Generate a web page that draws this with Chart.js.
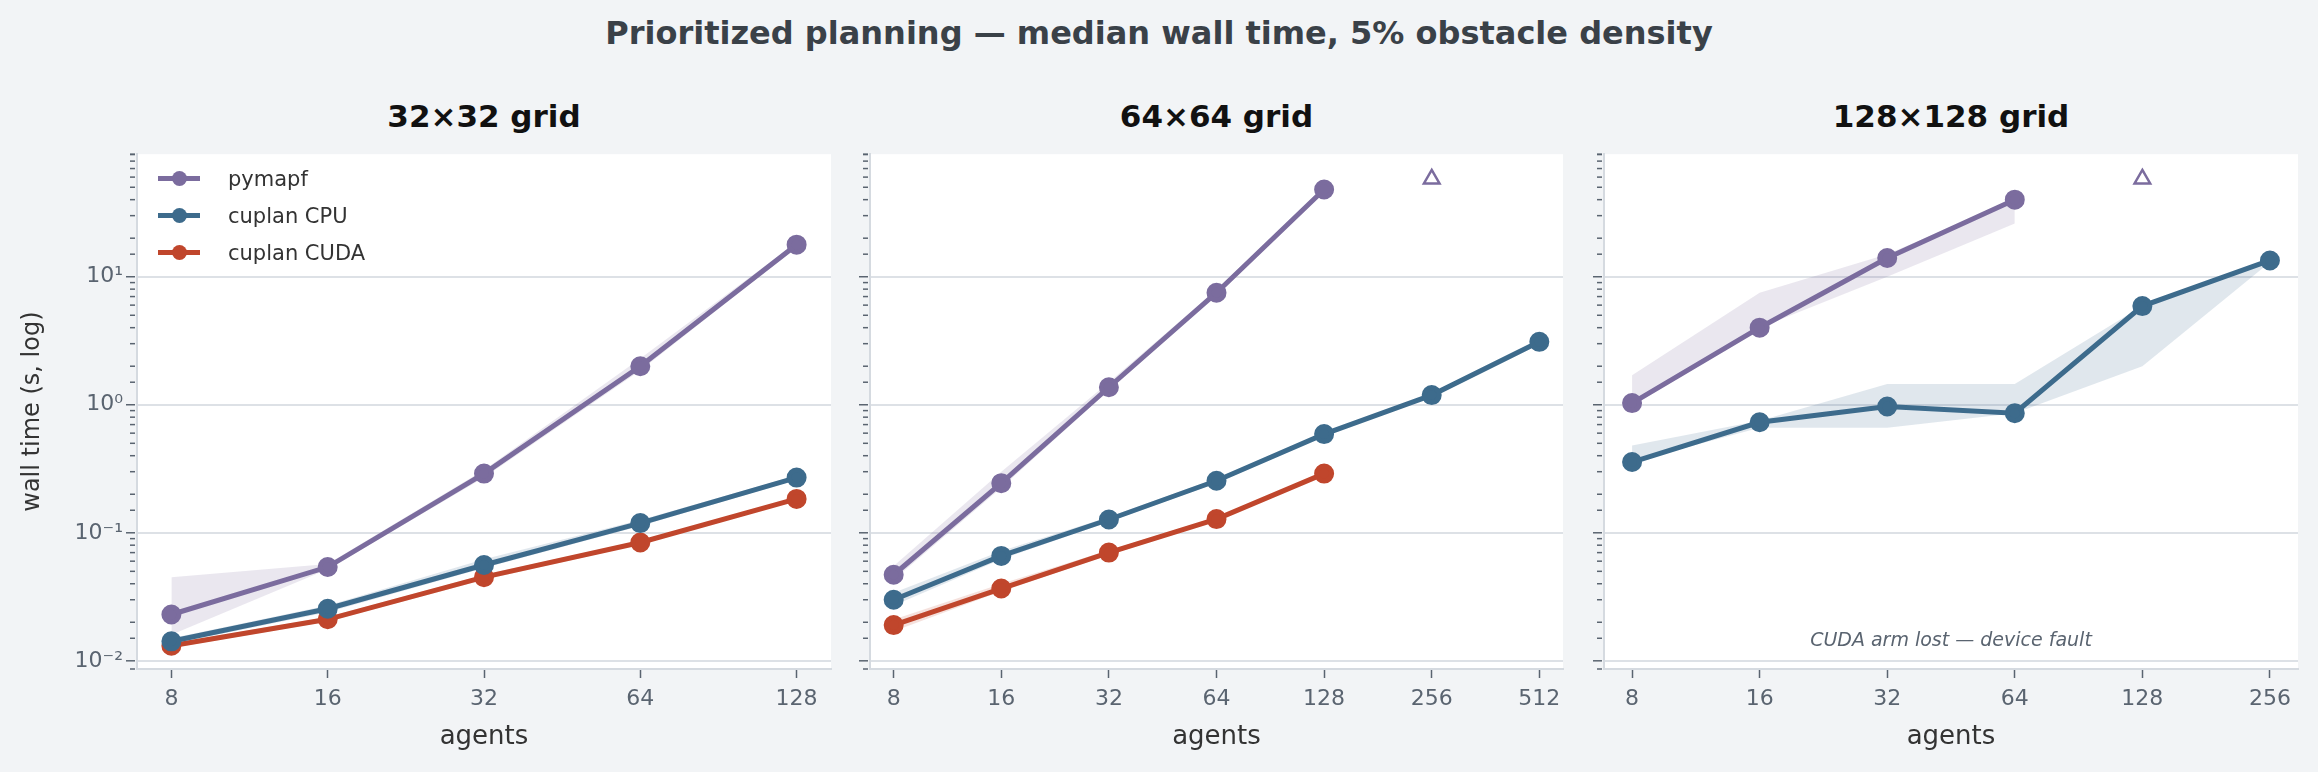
<!DOCTYPE html>
<html>
<head>
<meta charset="utf-8">
<script src="https://cdn.jsdelivr.net/npm/chart.js@4/dist/chart.umd.min.js"></script>
<style>
  body { margin: 0; width: 2318px; height: 772px; background: #f2f4f6; font-family: "DejaVu Sans", sans-serif; position: relative; overflow: hidden; }
  .box { position: absolute; }
  .ttl { position: absolute; font-weight: bold; color: #111; font-size: 31px; text-align: center; }
  #legend { position: absolute; left: 158px; top: 160px; font-size: 21px; color: #333; }
  #legend div { height: 37px; display: flex; align-items: center; }
  #legend span.sw { display: inline-block; width: 42px; height: 5px; position: relative; margin-right: 28px; }
  #legend span.sw i { position: absolute; left: 14px; top: -5px; width: 15px; height: 15px; border-radius: 50%; }
</style>
</head>
<body>
<div class="ttl" style="left:0;width:2318px;top:14px;color:#3a4148;font-size:32px;">Prioritized planning — median wall time, 5% obstacle density</div>
<div class="ttl" style="left:137px;width:694px;top:98px;">32×32 grid</div>
<div class="ttl" style="left:870px;width:693px;top:98px;">64×64 grid</div>
<div class="ttl" style="left:1604px;width:694px;top:98px;">128×128 grid</div>

<div class="box" style="left:0;top:127px;width:840px;height:645px;"><canvas id="c1"></canvas></div>
<div class="box" style="left:840px;top:127px;width:735px;height:645px;"><canvas id="c2"></canvas></div>
<div class="box" style="left:1575px;top:127px;width:743px;height:645px;"><canvas id="c3"></canvas></div>

<div id="legend">
  <div><span class="sw" style="background:#7b6c9e"><i style="background:#7b6c9e"></i></span>pymapf</div>
  <div><span class="sw" style="background:#3d6b8c"><i style="background:#3d6b8c"></i></span>cuplan CPU</div>
  <div><span class="sw" style="background:#c0462c"><i style="background:#c0462c"></i></span>cuplan CUDA</div>
</div>
<div style="position:absolute;left:1604px;width:694px;top:628px;text-align:center;font-style:italic;font-size:19px;color:#5a6470;">CUDA arm lost — device fault</div>

<script>
const COL = { py: '#7b6c9e', cpu: '#3d6b8c', cuda: '#c0462c' };
const BAND = { py: 'rgba(123,108,158,0.16)', cpu: 'rgba(61,107,140,0.16)', cuda: 'rgba(192,70,44,0.16)' };

// 32x32
const agents32 = [8, 16, 32, 64, 128];
const py32 = [0.023, 0.054, 0.29, 2.0, 17.8];
const py32Lo = [0.016, 0.052, 0.27, 1.85, 17.0];
const py32Hi = [0.045, 0.057, 0.31, 2.3, 18.5];
const cpu32 = [0.0142, 0.0255, 0.056, 0.119, 0.27];
const cpu32Lo = [0.0135, 0.024, 0.053, 0.113, 0.26];
const cpu32Hi = [0.015, 0.027, 0.062, 0.126, 0.28];
const cuda32 = [0.0131, 0.0211, 0.045, 0.084, 0.184];
const cuda32Lo = [0.0126, 0.0203, 0.043, 0.081, 0.178];
const cuda32Hi = [0.0137, 0.022, 0.047, 0.087, 0.19];

// 64x64
const agents64 = [8, 16, 32, 64, 128, 256, 512];
const py64 = [0.047, 0.244, 1.37, 7.5, 48, null, null];
const py64Lo = [0.043, 0.225, 1.3, 7.2, 46, null, null];
const py64Hi = [0.055, 0.3, 1.5, 7.9, 50, null, null];
const cpu64 = [0.030, 0.066, 0.127, 0.255, 0.59, 1.19, 3.1];
const cpu64Lo = [0.027, 0.062, 0.122, 0.245, 0.57, 1.15, 3.0];
const cpu64Hi = [0.034, 0.072, 0.133, 0.265, 0.61, 1.23, 3.2];
const cuda64 = [0.019, 0.0367, 0.070, 0.128, 0.29, null, null];
const cuda64Lo = [0.017, 0.035, 0.067, 0.124, 0.28, null, null];
const cuda64Hi = [0.021, 0.040, 0.073, 0.132, 0.30, null, null];
const timeout64 = [null, null, null, null, null, 58, null];

// 128x128
const agents128 = [8, 16, 32, 64, 128, 256];
const py128 = [1.03, 4.0, 14, 40, null, null];
const py128Lo = [1.0, 4.0, 10, 26, null, null];
const py128Hi = [1.7, 7.5, 15, 40, null, null];
const cpu128 = [0.357, 0.73, 0.97, 0.86, 5.9, 13.4];
const cpu128Lo = [0.357, 0.66, 0.66, 0.86, 2.0, 13.0];
const cpu128Hi = [0.48, 0.75, 1.45, 1.45, 5.9, 13.4];
const timeout128 = [null, null, null, null, 58, null];

const supers = { '-2': '10⁻²', '-1': '10⁻¹', '0': '10⁰', '1': '10¹' };
function isDecade(v) { const l = Math.log10(v); return Math.abs(l - Math.round(l)) < 1e-6; }

function pts(vals) { return vals.map((v, i) => ({ x: i, y: v })); }

function line(vals, c) {
  return { data: pts(vals), borderColor: c, backgroundColor: c, borderWidth: 5, pointRadius: 7.5, pointHoverRadius: 7.5, fill: false, order: 1 };
}
function band(hi, lo, c) {
  return [
    { data: pts(hi), borderWidth: 0, pointRadius: 0, backgroundColor: c, fill: '+1', order: 5 },
    { data: pts(lo), borderWidth: 0, pointRadius: 0, backgroundColor: c, fill: false, order: 5 }
  ];
}
function tri(vals) {
  return { data: pts(vals), showLine: false, pointStyle: 'triangle', pointRadius: 9, borderWidth: 2.5, borderColor: COL.py, backgroundColor: 'rgba(0,0,0,0)', order: 0 };
}

const bgPlugin = {
  id: 'bg',
  beforeDraw(chart) {
    const a = chart.chartArea, ctx = chart.ctx;
    ctx.save(); ctx.fillStyle = '#ffffff';
    ctx.fillRect(a.left, a.top, a.right - a.left, a.bottom - a.top);
    ctx.restore();
  }
};

// y tick marks (major longer than minor) from the scale's own ticks
const tickPlugin = {
  id: 'yticks',
  afterDraw(chart) {
    const y = chart.scales.y, ctx = chart.ctx, x0 = chart.chartArea.left - 2;
    ctx.save(); ctx.strokeStyle = '#5a6470'; ctx.lineWidth = 1.5;
    y.ticks.forEach(t => {
      const py = y.getPixelForValue(t.value);
      const len = isDecade(t.value) ? 9 : 5;
      ctx.beginPath(); ctx.moveTo(x0 - len, py); ctx.lineTo(x0, py); ctx.stroke();
    });
    ctx.restore();
  }
};

function makeChart(id, agents, datasets, leftPad, yW, rightPad, showY) {
  const n = agents.length;
  new Chart(document.getElementById(id), {
    type: 'line',
    data: { datasets },
    plugins: [bgPlugin, tickPlugin],
    options: {
      responsive: true, maintainAspectRatio: false, animation: false,
      spanGaps: false,
      layout: { autoPadding: false, padding: { top: 6, right: rightPad, bottom: 15, left: leftPad } },
      plugins: { legend: { display: false }, tooltip: { enabled: false } },
      scales: {
        x: {
          type: 'linear', min: -0.22, max: n - 1 + 0.22,
          afterBuildTicks: s => { s.ticks = agents.map((a, i) => ({ value: i })); },
          afterFit: s => { s.height = 88; },
          ticks: { callback: v => agents[v], color: '#5a6470', font: { size: 22, family: 'DejaVu Sans' }, padding: 8 },
          grid: { display: true, drawOnChartArea: false, tickLength: 9, tickColor: '#5a6470', tickWidth: 1.5 },
          border: { color: '#d5dae0', width: 2 },
          title: { display: true, text: 'agents', color: '#333', font: { size: 26, family: 'DejaVu Sans' }, padding: { top: 2 } }
        },
        y: {
          type: 'logarithmic', min: 0.00863, max: 90.6,
          afterFit: s => { s.width = yW; },
          ticks: {
            display: true, autoSkip: false, color: '#5a6470', font: { size: 22, family: 'DejaVu Sans' }, padding: 14,
            callback: v => (showY && isDecade(v)) ? supers[String(Math.round(Math.log10(v)))] : ''
          },
          grid: {
            color: c => isDecade(c.tick.value) ? '#dde1e6' : 'rgba(0,0,0,0)',
            lineWidth: 2, drawTicks: false
          },
          border: { color: '#d5dae0', width: 2 },
          title: { display: showY, text: 'wall time (s, log)', color: '#333', font: { size: 24, family: 'DejaVu Sans' }, padding: 0 }
        }
      }
    }
  });
}

makeChart('c1', agents32, [
  line(py32, COL.py), line(cpu32, COL.cpu), line(cuda32, COL.cuda),
  ...band(py32Hi, py32Lo, BAND.py), ...band(cpu32Hi, cpu32Lo, BAND.cpu), ...band(cuda32Hi, cuda32Lo, BAND.cuda)
], 18, 119, 9, true);

makeChart('c2', agents64, [
  line(py64, COL.py), line(cpu64, COL.cpu), line(cuda64, COL.cuda), tri(timeout64),
  ...band(py64Hi, py64Lo, BAND.py), ...band(cpu64Hi, cpu64Lo, BAND.cpu), ...band(cuda64Hi, cuda64Lo, BAND.cuda)
], 0, 30, 12, false);

makeChart('c3', agents128, [
  line(py128, COL.py), line(cpu128, COL.cpu), tri(timeout128),
  ...band(py128Hi, py128Lo, BAND.py), ...band(cpu128Hi, cpu128Lo, BAND.cpu)
], 0, 29, 20, false);
</script>
</body>
</html>
